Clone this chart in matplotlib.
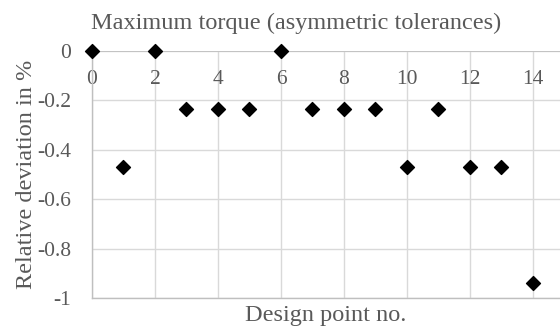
import matplotlib
matplotlib.use("Agg")
import matplotlib.pyplot as plt

design_points = [0, 1, 2, 3, 4, 5, 6, 7, 8, 9, 10, 11, 12, 13, 14]
rel_deviation = [0, -0.47, 0, -0.235, -0.235, -0.235, 0, -0.235, -0.235, -0.235,
                 -0.47, -0.235, -0.47, -0.47, -0.94]
x_ticks = [0, 2, 4, 6, 8, 10, 12, 14]
y_ticks = [0, -0.2, -0.4, -0.6, -0.8, -1]
y_labels = ["0", "-0.2", "-0.4", "-0.6", "-0.8", "-1"]

plt.rcParams['font.family'] = ['Liberation Serif', 'DejaVu Serif']
txt = '#595959'

fig = plt.figure(figsize=(5.6, 3.3), dpi=100)
ax = fig.add_axes([92 / 560, 1 - 298 / 330, (560 - 92) / 560, (298 - 51) / 330])

ax.scatter(design_points, rel_deviation, marker='D', s=50, color='black', zorder=5, clip_on=False)

ax.set_xlim(0, 14.86)
ax.set_ylim(-1, 0)
ax.set_xticks(x_ticks)
ax.set_yticks(y_ticks)
ax.set_yticklabels(y_labels)
ax.grid(True, color='#d9d9d9', linewidth=1)
ax.set_axisbelow(True)
ax.axhline(0, color='#bfbfbf', linewidth=1.2, zorder=2)

for s in ['top', 'right']:
    ax.spines[s].set_visible(False)
for s in ['left', 'bottom']:
    ax.spines[s].set_color('#bfbfbf')
    ax.spines[s].set_linewidth(1)

ax.xaxis.set_ticks_position('top')
ax.tick_params(axis='both', length=0, labelsize=15.5, colors=txt)
ax.tick_params(axis='x', pad=-27)
ax.tick_params(axis='y', pad=15)

ax.set_title("Maximum torque (asymmetric tolerances)", fontsize=17.5, color=txt, pad=16,
             x=(296 - 92) / 468)
ax.set_xlabel("Design point no.", fontsize=17.5, color=txt, labelpad=5)
ax.xaxis.set_label_position('bottom')
ax.set_ylabel("Relative deviation in %", fontsize=17.5, color=txt, labelpad=0)

fig.savefig("out.png", dpi=100)
